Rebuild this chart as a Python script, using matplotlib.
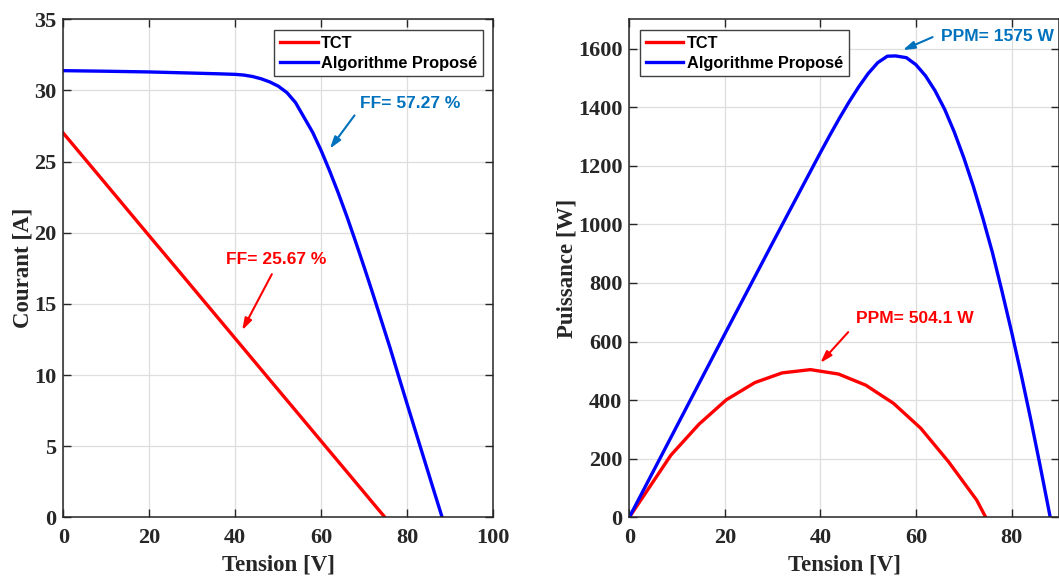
import matplotlib
matplotlib.use("Agg")
import matplotlib.pyplot as plt

# ---- data -------------------------------------------------------------
# I-V characteristics
v_iv_tct = [0, 8.9, 14.7, 20.6, 26.3, 32.0, 37.9, 43.6, 49.5, 55.3, 61.0, 66.8, 72.6, 74.8]
i_iv_tct = [27.0, 23.79, 21.69, 19.56, 17.51, 15.45, 13.32, 11.26, 9.13, 7.04, 4.98, 2.89, 0.79, 0.0]

v_iv_alg = [0, 10, 20, 30, 36, 40, 42, 44, 46, 48, 50, 52, 54, 56, 58, 60, 62, 64,
            66, 68, 70, 72, 74, 76, 78, 80, 82, 84, 86, 88.1]
i_iv_alg = [31.39, 31.35, 31.3, 31.22, 31.17, 31.13, 31.08, 30.98, 30.82, 30.6, 30.3,
            29.85, 29.15, 28.1, 27.05, 25.75, 24.3, 22.75, 21.1, 19.35, 17.55, 15.7, 13.8,
            11.9, 9.9, 7.92, 5.96, 4.0, 2.04, 0.0]

# P-V characteristics
v_pv_tct = [0, 8.7, 14.6, 20.3, 26.3, 32.0, 37.9, 43.8, 49.5, 55.3, 61.0, 66.8, 72.7, 74.6]
p_pv_tct = [0, 212, 318, 401, 460, 493, 504.1, 489, 451, 389, 304, 190, 59, 0]

v_pv_alg = [0, 10, 20, 30, 36, 40, 42, 44, 46, 48, 50, 52, 54, 55.7, 58, 60, 62, 64,
            66, 68, 70, 72, 74, 76, 78, 80, 82, 84, 86, 88.1]
p_pv_alg = [0, 313, 626, 937, 1122, 1245, 1305, 1363, 1418, 1469, 1515, 1552, 1574,
            1575, 1569, 1545, 1507, 1456, 1393, 1316, 1228, 1130, 1021, 904, 772, 634,
            489, 336, 175, 0]

series_names = ["TCT", "Algorithme Proposé"]
ff_labels = ["FF= 25.67 %", "FF= 57.27 %"]
ppm_labels = ["PPM= 504.1 W", "PPM= 1575 W"]

# ---- style ------------------------------------------------------------
RED = "#ff0000"
BLUE = "#0000ff"
ANN_BLUE = "#0072bd"
DARK = "#262626"
SERIF = "Liberation Serif"
SANS = "Liberation Sans"
LW = 2.4

fig = plt.figure(figsize=(10.59, 5.77), dpi=100)
ax1 = fig.add_axes([63.3 / 1059, 59.7 / 577, 430 / 1059, 498 / 577])
ax2 = fig.add_axes([629.3 / 1059, 59.7 / 577, 430 / 1059, 498 / 577])


def style_axes(ax):
    ax.grid(True, color="#dedede", lw=0.9)
    ax.set_axisbelow(True)
    ax.tick_params(direction="in", length=6, width=1, top=True, right=True,
                   colors=DARK, labelsize=16)
    ax.tick_params(axis="x", pad=8)
    ax.tick_params(axis="y", pad=5)
    for lab in ax.get_xticklabels() + ax.get_yticklabels():
        lab.set_fontfamily(SERIF)
        lab.set_fontweight("bold")
    for sp in ax.spines.values():
        sp.set_color(DARK)
        sp.set_linewidth(1.1)


def add_legend(ax, loc):
    leg = ax.legend(loc=loc, frameon=True, fancybox=False, framealpha=1,
                    prop={"family": SANS, "weight": "bold", "size": 11.8},
                    handlelength=2.3, handletextpad=0.2, borderpad=0.35,
                    labelspacing=0.3, borderaxespad=0.65)
    leg.get_frame().set_edgecolor("#404040")
    leg.get_frame().set_linewidth(1.0)
    return leg


def labels(ax, ylabel):
    ax.set_xlabel("Tension [V]", fontfamily=SERIF, fontweight="bold", fontsize=16.5,
                  color=DARK, labelpad=4.5)
    ax.set_ylabel(ylabel, fontfamily=SERIF, fontweight="bold", fontsize=16.5,
                  color=DARK, labelpad=0.5)


ann_font = dict(fontfamily=SANS, fontweight="bold", fontsize=12.5)
arrow_style = "-|>,head_length=0.7,head_width=0.22"

# ---- left: current vs voltage ------------------------------------------
ax1.plot(v_iv_tct, i_iv_tct, color=RED, lw=LW, label=series_names[0])
ax1.plot(v_iv_alg, i_iv_alg, color=BLUE, lw=LW, label=series_names[1])
ax1.set_xlim(0, 100)
ax1.set_ylim(0, 35)
ax1.set_xticks(range(0, 101, 20))
ax1.set_yticks(range(0, 36, 5))
style_axes(ax1)
labels(ax1, "Courant [A]")
add_legend(ax1, "upper right")

ax1.annotate("", xy=(61.6, 25.75), xytext=(68.1, 28.4),
             arrowprops=dict(arrowstyle=arrow_style, color=ANN_BLUE, lw=1.5))
ax1.text(80.6, 29.1, ff_labels[1], color=ANN_BLUE, ha="center", va="center", **ann_font)
ax1.annotate("", xy=(41.3, 12.97), xytext=(48.8, 17.26),
             arrowprops=dict(arrowstyle=arrow_style, color=RED, lw=1.5))
ax1.text(49.4, 18.1, ff_labels[0], color=RED, ha="center", va="center", **ann_font)

# ---- right: power vs voltage -------------------------------------------
ax2.plot(v_pv_tct, p_pv_tct, color=RED, lw=LW, label=series_names[0])
ax2.plot(v_pv_alg, p_pv_alg, color=BLUE, lw=LW, label=series_names[1])
ax2.set_xlim(0, 90)
ax2.set_ylim(0, 1700)
ax2.set_xticks(range(0, 81, 20))
ax2.set_yticks(range(0, 1601, 200))
style_axes(ax2)
labels(ax2, "Puissance [W]")
add_legend(ax2, "upper left")

ax2.annotate("", xy=(56.7, 1591), xytext=(64.0, 1643),
             arrowprops=dict(arrowstyle=arrow_style, color=ANN_BLUE, lw=1.5))
ax2.text(77.0, 1642, ppm_labels[1], color=ANN_BLUE, ha="center", va="center", **ann_font)
ax2.annotate("", xy=(39.6, 520), xytext=(46.2, 639),
             arrowprops=dict(arrowstyle=arrow_style, color=RED, lw=1.5))
ax2.text(59.7, 680, ppm_labels[0], color=RED, ha="center", va="center", **ann_font)

fig.savefig("out.png", dpi=100, facecolor="white")
